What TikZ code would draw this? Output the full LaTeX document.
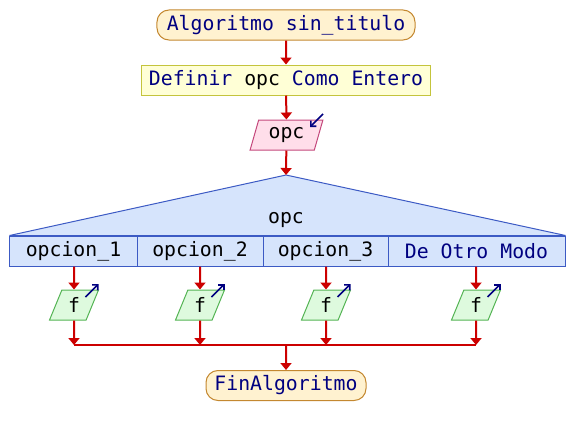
\documentclass[tikz,border=0pt]{standalone}
\usepackage{fontspec}
\setmonofont{DejaVu Sans Mono}
\usetikzlibrary{shapes.geometric, arrows.meta}
\definecolor{ink}{RGB}{0,0,128}
\definecolor{flow}{RGB}{204,0,0}
\definecolor{termfill}{RGB}{255,242,208}
\definecolor{termline}{RGB}{196,136,48}
\definecolor{deffill}{RGB}{255,255,214}
\definecolor{defline}{RGB}{196,196,60}
\definecolor{infill}{RGB}{255,222,234}
\definecolor{inline}{RGB}{196,72,124}
\definecolor{selfill}{RGB}{214,228,252}
\definecolor{selline}{RGB}{60,90,196}
\definecolor{outfill}{RGB}{222,250,222}
\definecolor{outline}{RGB}{84,180,84}

\begin{document}
\begin{tikzpicture}[scale=0.35146]
            \tikzstyle{every node}+=[inner sep=0pt, font=\ttfamily\fontsize{19.8}{24}\selectfont]
            \tikzstyle{flowline}=[draw=flow, line width=2pt, -{Triangle[width=11pt,length=7pt]}]
            \tikzstyle{joinline}=[draw=flow, line width=2pt]
            \tikzstyle{iconline}=[draw=ink, line width=1.6pt, -{Straight Barb[length=4pt,width=8pt]}]
            \tikzstyle{term}=[draw=termline, line width=1pt, fill=termfill, rounded corners=12pt, minimum height=30pt, text=ink]
            \tikzstyle{defbox}=[draw=defline, line width=1pt, fill=deffill, minimum height=30pt]
            \tikzstyle{inbox}=[trapezium, trapezium left angle=70, trapezium right angle=110, trapezium stretches=true, draw=inline, line width=1pt, fill=infill, minimum height=30pt]
            \tikzstyle{outbox}=[trapezium, trapezium left angle=68, trapezium right angle=112, trapezium stretches=true, draw=outline, line width=1pt, fill=outfill, minimum height=30pt, minimum width=49pt]
            \tikzstyle{casebox}=[draw=selline, line width=1pt, fill=selfill, minimum height=30pt]
            \useasboundingbox (0,0) rectangle (57.2,-43.5);
            \node [term, minimum width=258pt] (ini) at (28.6,-2.5) {Algoritmo sin\_titulo};
            \node [defbox, minimum width=288pt] (def) at (28.6,-8.0) {\textcolor{ink}{Definir} opc \textcolor{ink}{Como Entero}};
            \node [inbox, minimum width=73pt] (lee) at (28.65,-13.5) {opc};
            \coordinate (vert) at (28.6,-17.5);
            \node [casebox, minimum width=127pt] (c1) at (7.35,-25.1) {opcion\_1};
            \node [casebox, minimum width=126pt] (c2) at (20.0,-25.1) {opcion\_2};
            \node [casebox, minimum width=125pt] (c3) at (32.55,-25.1) {opcion\_3};
            \node [casebox, minimum width=177pt, text=ink] (c4) at (47.65,-25.1) {De Otro Modo};
            \draw [selline, line width=1pt, line join=bevel, fill=selfill] (c1.north west) -- (vert) -- (c4.north east) -- cycle;
            \node (var) at (28.6,-22.0) {opc};
            \node [outbox] (f1) at (7.4,-30.5) {f};
            \node [outbox] (f2) at (20.0,-30.5) {f};
            \node [outbox] (f3) at (32.6,-30.5) {f};
            \node [outbox] (f4) at (47.6,-30.5) {f};
            \coordinate (jm) at (28.6,-34.5);
            \node [term, minimum width=160pt] (fin) at (28.6,-38.55) {FinAlgoritmo};
            \draw [flowline] (ini) -- (def);
            \draw [flowline] (def) -- (lee);
            \draw [flowline] (lee) -- (vert);
            \draw [iconline] ([shift={(3.65,2.1)}]lee.center) -- ++(-1.3,-1.3);
            \draw [flowline] (f1 |- c1.south) -- (f1);
            \draw [flowline] (f2 |- c2.south) -- (f2);
            \draw [flowline] (f3 |- c3.south) -- (f3);
            \draw [flowline] (f4 |- c4.south) -- (f4);
            \draw [iconline] ([shift={(1.15,0.8)}]f1.center) -- ++(1.3,1.3);
            \draw [iconline] ([shift={(1.15,0.8)}]f2.center) -- ++(1.3,1.3);
            \draw [iconline] ([shift={(1.15,0.8)}]f3.center) -- ++(1.3,1.3);
            \draw [iconline] ([shift={(1.15,0.8)}]f4.center) -- ++(1.3,1.3);
            \draw [flowline] (f1) -- (f1 |- jm);
            \draw [flowline] (f2) -- (f2 |- jm);
            \draw [flowline] (f3) -- (f3 |- jm);
            \draw [flowline] (f4) -- (f4 |- jm);
            \draw [joinline] (f1 |- jm) -- (f4 |- jm);
            \draw [flowline] (jm) -- (fin);
\end{tikzpicture}
\end{document}
